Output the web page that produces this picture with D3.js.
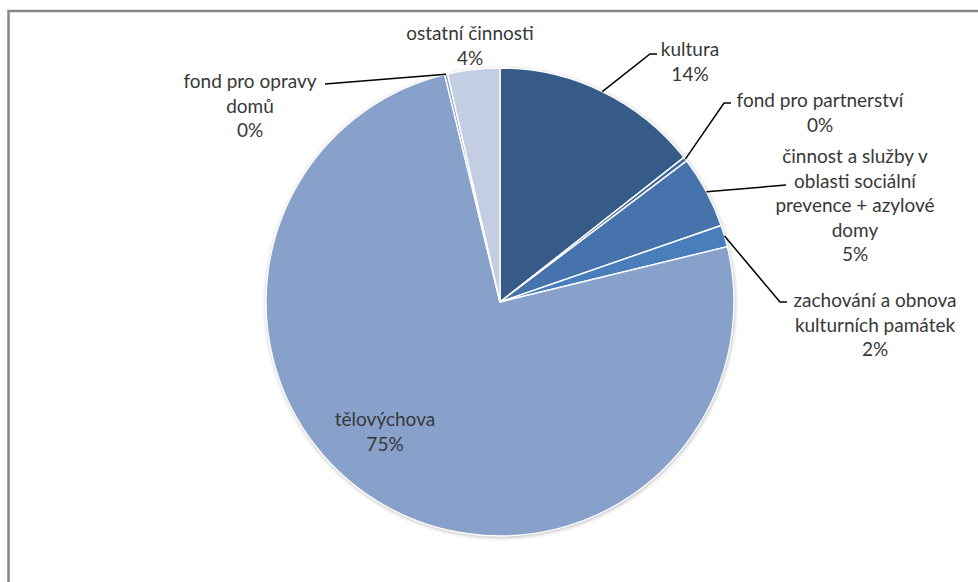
<!DOCTYPE html>
<html lang="cs">
<head>
<meta charset="utf-8">
<script src="https://cdn.jsdelivr.net/npm/d3@7/dist/d3.min.js"></script>
<style>
  html, body { margin: 0; padding: 0; background: #fff; }
  svg { display: block; }
  text { font-family: Lato, "Open Sans", sans-serif; font-size: 19px; fill: #383838; }
</style>
</head>
<body>
<svg id="chart" width="978" height="582"></svg>
<script>
// Podíl výdajů podle oblastí (v %)
const categories = [
  "kultura",
  "fond pro partnerství",
  "činnost a služby v oblasti sociální prevence + azylové domy",
  "zachování a obnova kulturních památek",
  "tělovýchova",
  "fond pro opravy domů",
  "ostatní činnosti"
];
const values = [14.4, 0.3, 5.0, 1.5, 75.0, 0.2, 3.6];
const colors = ["#365b88", "#3f68a0", "#4673ab", "#4a7dbb", "#87a1cb", "#87a1cb", "#c4cee3"];

// Label text broken into lines, and where each label sits
const labelLines = [
  ["kultura"],
  ["fond pro partnerství"],
  ["činnost a služby v", "oblasti sociální", "prevence + azylové", "domy"],
  ["zachování a obnova", "kulturních památek"],
  ["tělovýchova"],
  ["fond pro opravy", "domů"],
  ["ostatní činnosti"]
];
const labelLayout = [
  { x: 690, y: 48, leader: [[650, 54], [657, 54]] },
  { x: 820, y: 99, leader: [[724, 103], [731, 103]] },
  { x: 855, y: 155, leader: [[786, 185]] },
  { x: 875, y: 299, leader: [[780, 302], [787, 302]] },
  { x: 385, y: 418, leader: null },
  { x: 250, y: 80, leader: [[325, 84]] },
  { x: 470, y: 32, leader: null }
];
const lineHeight = 24.6;

const svg = d3.select("#chart");
const cx = 500, cy = 302, radius = 234;

// Frame
svg.append("rect")
  .attr("x", 8.5).attr("y", 11)
  .attr("width", 1200).attr("height", 1200)
  .attr("fill", "none")
  .attr("stroke", "#868686")
  .attr("stroke-width", 2.5);

// Soft outer shadow of the pie
const defs = svg.append("defs");
const f = defs.append("filter").attr("id", "shadow")
  .attr("x", "-10%").attr("y", "-10%").attr("width", "120%").attr("height", "120%");
f.append("feDropShadow")
  .attr("dx", 0.5).attr("dy", 1)
  .attr("stdDeviation", 2.2)
  .attr("flood-color", "#000")
  .attr("flood-opacity", 0.35);

const data = categories.map((c, i) => ({ name: c, value: values[i], i }));
const pie = d3.pie().value(d => d.value).sort(null);
const arcs = pie(data);
const arc = d3.arc().innerRadius(0).outerRadius(radius);

const g = svg.append("g").attr("transform", `translate(${cx},${cy})`);

g.append("g").attr("filter", "url(#shadow)")
  .selectAll("path")
  .data(arcs)
  .join("path")
  .attr("d", arc)
  .attr("fill", d => colors[d.data.i]);

g.append("g")
  .selectAll("path")
  .data(arcs)
  .join("path")
  .attr("d", arc)
  .attr("fill", d => colors[d.data.i])
  .attr("stroke", "#fff")
  .attr("stroke-width", 1.4)
  .attr("stroke-linejoin", "round");

// Leader lines from the slice edge (at its mid angle) to the label
arcs.forEach((a, i) => {
  const lay = labelLayout[i];
  if (!lay.leader) return;
  const mid = (a.startAngle + a.endAngle) / 2;
  const start = [cx + radius * Math.sin(mid), cy - radius * Math.cos(mid)];
  const pts = [start, ...lay.leader];
  svg.append("path")
    .attr("d", d3.line()(pts))
    .attr("fill", "none")
    .attr("stroke", "#000")
    .attr("stroke-width", 1.5);
});

// Labels: name lines followed by rounded percentage
arcs.forEach((a, i) => {
  const lay = labelLayout[i];
  const lines = [...labelLines[i], Math.round(a.data.value) + "%"];
  const t = svg.append("text")
    .attr("text-anchor", "middle")
    .attr("x", lay.x)
    .attr("y", lay.y)
    .attr("dominant-baseline", "central");
  lines.forEach((ln, k) => {
    t.append("tspan")
      .attr("x", lay.x)
      .attr("y", lay.y + k * lineHeight)
      .text(ln);
  });
});
</script>
</body>
</html>
